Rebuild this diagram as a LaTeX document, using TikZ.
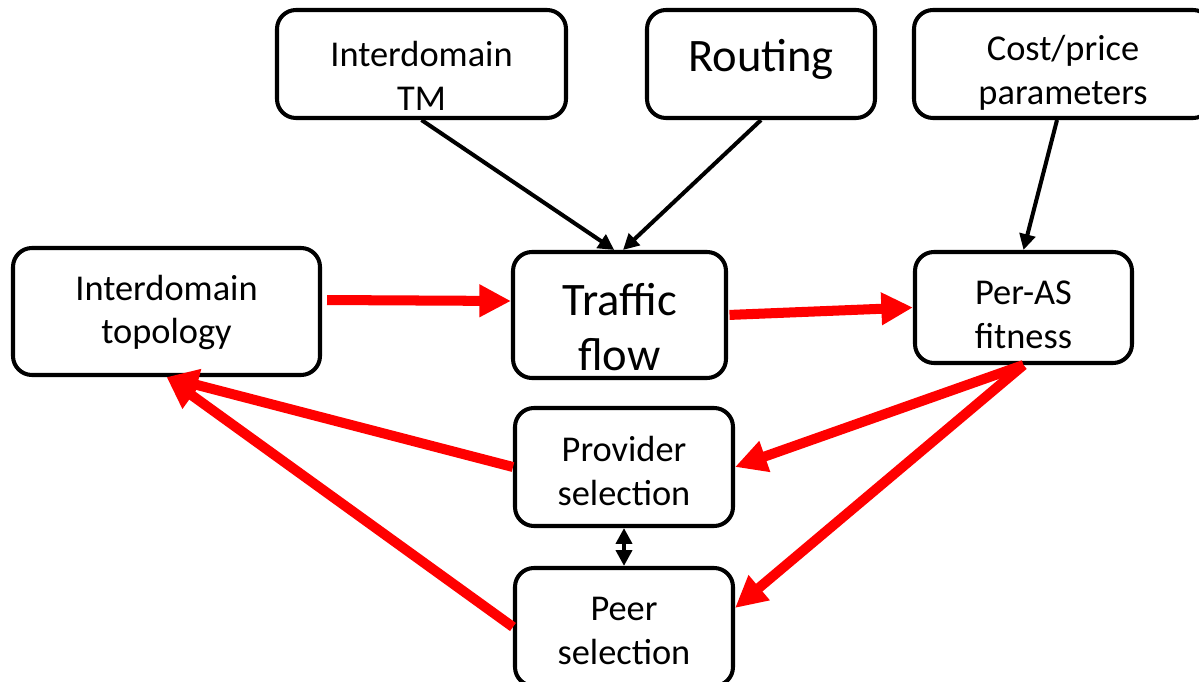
\documentclass[tikz,border=0pt]{standalone}
\usepackage{fontspec}
\setmainfont{Carlito}
\usetikzlibrary{arrows.meta}
\newcommand{\boxfont}{\fontsize{20.7}{25}\selectfont}
\newcommand{\bigboxfont}{\fontsize{26.5}{31}\selectfont}
\definecolor{flowred}{RGB}{255,0,0}

\begin{document}
\begin{tikzpicture}[
  box/.style={draw,line width=2.3pt,rounded corners=0.38cm,inner sep=0pt},
  txt/.style={align=center,inner sep=0pt,font=\boxfont},
  bigtxt/.style={txt,font=\bigboxfont},
  feed/.style={-{Triangle[length=9pt,width=9pt]},line width=2.3pt},
  loop/.style={-{Triangle[length=18pt,width=17.5pt]},line width=5.7pt,color=flowred},
]
\useasboundingbox (0,0) rectangle (23.98,13.62);
% inputs
\node[box,minimum width=5.78cm,minimum height=2.16cm] (tm) at (8.43,12.34) {};
\node[txt] (tmtext) at ([yshift=-0.24cm]tm.center) {Interdomain\\TM};
\node[box,minimum width=4.56cm,minimum height=2.16cm] (routing) at (15.22,12.34) {};
\node[bigtxt] (routingtext) at ([yshift=0.1cm]routing.center) {Routing};
\node[box,minimum width=5.96cm,minimum height=2.16cm] (cost) at (21.26,12.34) {};
\node[txt] (costtext) at ([yshift=-0.17cm]cost.center) {Cost/price\\parameters};
% middle row
\node[box,minimum width=6.14cm,minimum height=2.54cm] (topo) at (3.33,7.39) {};
\node[txt] (topotext) at ([yshift=-0.02cm]topo.center) {Interdomain\\topology};
\node[box,minimum width=4.26cm,minimum height=2.52cm] (traffic) at (12.39,7.32) {};
\node[bigtxt] (traffictext) at ([yshift=-0.24cm]traffic.center) {Traffic\\flow};
\node[box,minimum width=4.34cm,minimum height=2.22cm] (fitness) at (20.47,7.47) {};
\node[txt] (fitnesstext) at ([yshift=-0.14cm]fitness.center) {Per-AS\\fitness};
% selections
\node[box,minimum width=4.36cm,minimum height=2.36cm] (provider) at (12.48,4.28) {};
\node[txt] (providertext) at ([yshift=-0.08cm]provider.center) {Provider\\selection};
\node[box,minimum width=4.36cm,minimum height=2.36cm] (peer) at (12.48,1.08) {};
\node[txt] (peertext) at ([yshift=-0.08cm]peer.center) {Peer\\selection};

\draw[feed] (tm.south) -- ([xshift=-3pt]traffic.north);
\draw[feed] (routing.south) -- ([xshift=2pt]traffic.north);
\draw[feed] ([xshift=-0.12cm]cost.south) -- (fitness.north);
\draw[{Triangle[length=9pt,width=9pt]}-{Triangle[length=9pt,width=9pt]},line width=2.3pt] (provider.south) -- (peer.north);

\draw[loop,shorten <=0.1cm] ([yshift=0.23cm]topo.east) -- ([yshift=0.28cm]traffic.west);
\draw[loop,shorten <=0.03cm] (traffic.east) -- (fitness.west);
\draw[loop] (fitness.south) -- (provider.east);
\draw[loop] (fitness.south) -- ([yshift=0.38cm]peer.east);
\draw[loop] (provider.west) -- (topo.south);
\draw[loop] (peer.west) -- (topo.south);
\end{tikzpicture}
\end{document}
